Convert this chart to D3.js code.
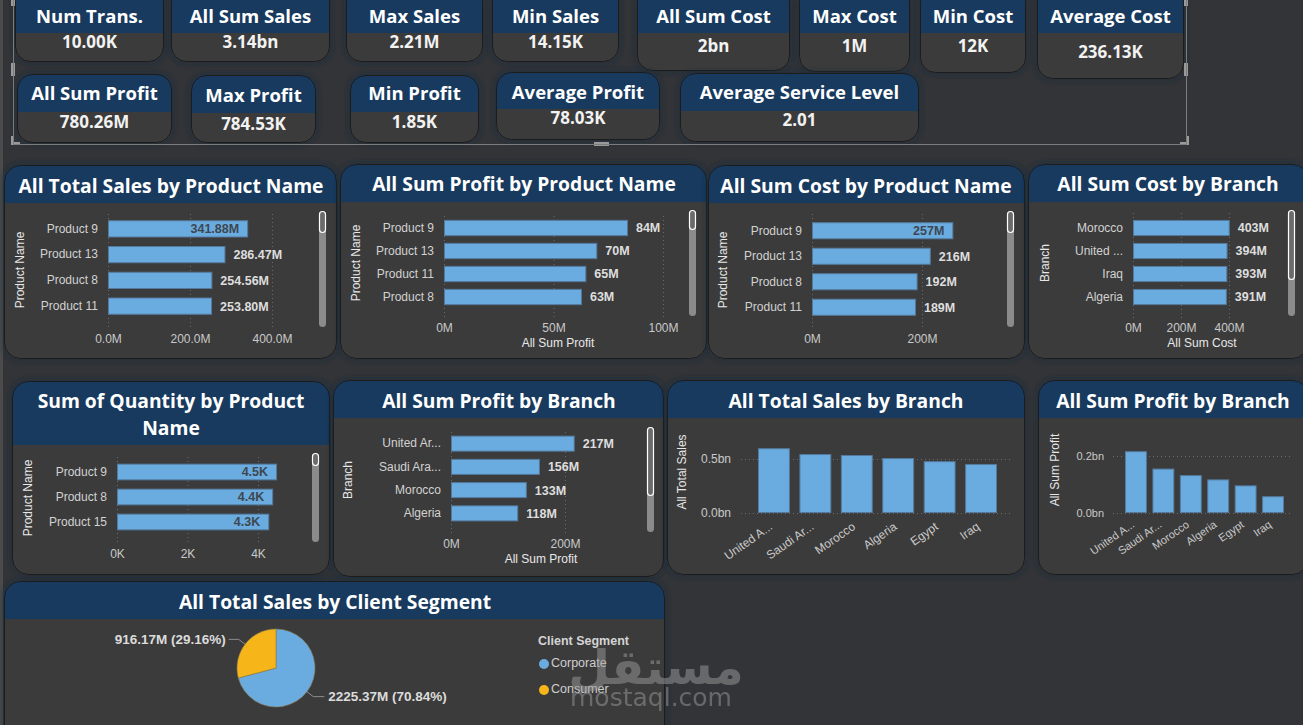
<!DOCTYPE html>
<html>
<head>
<meta charset="utf-8">
<script src="https://cdn.jsdelivr.net/npm/d3@7"></script>
<style>
body { margin: 0; background: #323438; }
svg { display: block; }
</style>
</head>
<body>
<div id="dash"></div>
<script>
// kpi cards
var kpi_titles = ["Num Trans.", "All Sum Sales", "Max Sales", "Min Sales", "All Sum Cost", "Max Cost", "Min Cost", "Average Cost",
    "All Sum Profit", "Max Profit", "Min Profit", "Average Profit", "Average Service Level"];
var kpi_values = ["10.00K", "3.14bn", "2.21M", "14.15K", "2bn", "1M", "12K", "236.13K",
    "780.26M", "784.53K", "1.85K", "78.03K", "2.01"];

// bar charts (M = millions, K = thousands, bn = billions)
var sales_products = ["Product 9", "Product 13", "Product 8", "Product 11"];
var sales_values = [341.88, 286.47, 254.56, 253.80];
var sales_ticks = [0, 200, 400];

var profit_products = ["Product 9", "Product 13", "Product 11", "Product 8"];
var profit_values = [84, 70, 65, 63];
var profit_ticks = [0, 50, 100];

var cost_products = ["Product 9", "Product 13", "Product 8", "Product 11"];
var cost_values = [257, 216, 192, 189];
var cost_ticks = [0, 200];

var cost_branches = ["Morocco", "United ...", "Iraq", "Algeria"];
var cost_branch_values = [403, 394, 393, 391];
var cost_branch_ticks = [0, 200, 400];

var qty_products = ["Product 9", "Product 8", "Product 15"];
var qty_values = [4.54, 4.43, 4.32];
var qty_ticks = [0, 2, 4];

var profit_branches = ["United Ar...", "Saudi Ara...", "Morocco", "Algeria"];
var profit_branch_values = [217, 156, 133, 118];
var profit_branch_ticks = [0, 200];

var branches = ["United A...", "Saudi Ar...", "Morocco", "Algeria", "Egypt", "Iraq"];
var branch_sales = [0.600, 0.546, 0.537, 0.509, 0.480, 0.454];
var branch_sales_ticks = [0, 0.5];
var branch_profit = [0.217, 0.156, 0.133, 0.118, 0.097, 0.059];
var branch_profit_ticks = [0, 0.2];

var segments = ["Corporate", "Consumer"];
var segment_sales = [2225.37, 916.17];

var W = 1303, H = 725;
var BAR = "#6aacdf", BAR_LINE = "#54799c", HEAD = "#173a5e", BODY = "#3a3a3a";
var TITLE_FONT = "'Open Sans', 'Noto Sans', sans-serif";
var AXIS_FONT = "'Liberation Sans', Arial, sans-serif";

var svg = d3.select("#dash").append("svg").attr("width", W).attr("height", H);
var defs = svg.append("defs");
defs.append("filter").attr("id", "glow")
    .attr("x", "-10%").attr("y", "-20%").attr("width", "120%").attr("height", "140%")
    .append("feDropShadow").attr("dx", 0).attr("dy", 0).attr("stdDeviation", 3)
    .attr("flood-color", "#17283b").attr("flood-opacity", 0.9);

svg.append("rect").attr("width", W).attr("height", H).attr("fill", "#323438");
svg.append("rect").attr("width", 3).attr("height", H).attr("fill", "#4b4b4b");

var clip_n = 0;
function card(x, y, w, h, head_bottom, r) {
    var id = "clip" + (clip_n++);
    defs.append("clipPath").attr("id", id).append("rect")
        .attr("x", x).attr("y", y).attr("width", w).attr("height", h).attr("rx", r).attr("ry", r);
    var g = svg.append("g");
    g.append("rect").attr("x", x).attr("y", y).attr("width", w).attr("height", h)
        .attr("rx", r).attr("ry", r).attr("fill", BODY).attr("filter", "url(#glow)");
    g.append("rect").attr("clip-path", "url(#" + id + ")")
        .attr("x", x).attr("y", y).attr("width", w).attr("height", head_bottom - y).attr("fill", HEAD);
    g.append("rect").attr("x", x + 0.5).attr("y", y + 0.5).attr("width", w - 1).attr("height", h - 1)
        .attr("rx", r).attr("ry", r).attr("fill", "none").attr("stroke", "#1c1c1c").attr("stroke-width", 1);
    return g;
}

function ctext(g, x, y, txt, size, weight, color, font) {
    return g.append("text").attr("x", x).attr("y", y).attr("dy", "0.35em")
        .attr("text-anchor", "middle")
        .style("font-family", font || TITLE_FONT).style("font-size", size + "px")
        .style("font-weight", weight).style("fill", color).text(txt);
}

// ---------- KPI row ----------
// [x1, x2, top, header bottom, bottom, title y, value y]
var kpi_boxes = [
    [15, 164, -14, 33, 62, 17, 42], [171, 330, -14, 33, 62, 17, 42], [346, 483, -14, 33, 62, 17, 42],
    [492, 619, -14, 33, 62, 17, 42], [637, 790, -14, 33, 71, 17, 46], [799, 910, -14, 33, 72, 17, 46],
    [920, 1026, -14, 33, 73, 17, 46], [1037, 1184, -14, 33, 79, 17, 52],
    [17, 172, 74, 112, 143, 94, 122], [191, 316, 75, 113, 143, 96, 124], [350, 479, 75, 112, 143, 94, 122],
    [496, 660, 72, 109, 140, 93, 118], [680, 919, 73, 111, 142, 93, 120]
];
kpi_boxes.forEach(function (b, i) {
    var g = card(b[0], b[2], b[1] - b[0], b[4] - b[2], b[3], 15);
    var cx = (b[0] + b[1]) / 2;
    ctext(g, cx, b[5], kpi_titles[i], 18.5, 700, "#ffffff");
    ctext(g, cx, b[6], kpi_values[i], 17, 700, "#f2f2f2");
});

// selection frame around the KPI group
var frame = svg.append("g").attr("fill", "#9a9a9a");
svg.append("rect").attr("x", 13.5).attr("y", -2).attr("width", 1173).attr("height", 146.5)
    .attr("fill", "none").attr("stroke", "#7c7c7c").attr("stroke-width", 1);
frame.append("rect").attr("x", 11).attr("y", 63).attr("width", 4).attr("height", 13);
frame.append("rect").attr("x", 1184).attr("y", 63).attr("width", 4).attr("height", 13);
frame.append("rect").attr("x", 594).attr("y", 142).attr("width", 15).attr("height", 4);
frame.append("path").attr("d", "M11,136h3v6h6v3h-9z");
frame.append("path").attr("d", "M1189,136h-3v6h-6v3h9z");
frame.append("rect").attr("x", 11).attr("y", 0).attr("width", 4).attr("height", 6);
frame.append("rect").attr("x", 1184).attr("y", 0).attr("width", 4).attr("height", 6);

// ---------- helpers ----------
function style_axis(ax, size) {
    ax.select(".domain").remove();
    ax.selectAll(".tick line").attr("stroke", "#6a6a6a").attr("stroke-dasharray", "1,3");
    ax.selectAll(".tick text").style("font-family", AXIS_FONT).style("font-size", (size || 12) + "px")
        .style("fill", "#c9c9c9");
}

function scrollbar(x, y1, y2, t1, t2) {
    var g = svg.append("g");
    g.append("rect").attr("x", x).attr("y", y1).attr("width", 7).attr("height", y2 - y1)
        .attr("rx", 3.5).attr("fill", "#8b8b8b");
    g.append("rect").attr("x", x + 0.5).attr("y", t1 + 0.5).attr("width", 6).attr("height", t2 - t1 - 1)
        .attr("rx", 3).attr("fill", "#6b6b6b").attr("stroke", "#ffffff").attr("stroke-width", 1.2);
}

function rot_title(x, y, txt) {
    svg.append("text").attr("transform", "translate(" + x + "," + y + ") rotate(-90)")
        .attr("text-anchor", "middle").attr("dy", "0.35em")
        .style("font-family", AXIS_FONT).style("font-size", "12px").style("fill", "#e8e8e8").text(txt);
}

function hbar(o) {
    var g = svg.append("g");
    var x = d3.scaleLinear().domain(o.domain).range(o.xr);
    var y = d3.scaleBand().domain(o.cats).range(o.yr).paddingInner(o.pad).paddingOuter(o.pad / 2);

    var ax = g.append("g").attr("transform", "translate(0," + o.gb + ")")
        .call(d3.axisBottom(x).tickValues(o.ticks).tickFormat(o.tf)
            .tickSizeInner(-(o.gb - o.gt)).tickSizeOuter(0).tickPadding(o.tp));
    style_axis(ax);

    var ay = g.append("g").attr("transform", "translate(" + x(0) + ",0)")
        .call(d3.axisLeft(y).tickSize(0).tickPadding(10));
    ay.select(".domain").remove();
    ay.selectAll(".tick text").style("font-family", AXIS_FONT).style("font-size", "12px").style("fill", "#d2d2d2");

    g.selectAll("rect.bar").data(o.vals).join("rect").attr("class", "bar")
        .attr("x", x(0) + 0.5)
        .attr("y", function (d, i) { return y(o.cats[i]) + 0.5; })
        .attr("width", function (d) { return x(d) - x(0) - 1; })
        .attr("height", y.bandwidth() - 1)
        .attr("fill", BAR).attr("stroke", BAR_LINE).attr("stroke-width", 1);

    g.selectAll("text.lbl").data(o.vals).join("text").attr("class", "lbl")
        .attr("x", function (d) { return o.inside(d) ? x(d) - 9 : x(d) + 8; })
        .attr("y", function (d, i) { return y(o.cats[i]) + y.bandwidth() / 2; })
        .attr("dy", "0.35em")
        .attr("text-anchor", function (d) { return o.inside(d) ? "end" : "start"; })
        .style("font-family", AXIS_FONT).style("font-size", "12.5px").style("font-weight", 700)
        .style("fill", function (d) { return o.inside(d) ? "#3e4751" : "#dedede"; })
        .text(o.lf);

    if (o.xtitle) {
        g.append("text").attr("x", o.xtitle[0]).attr("y", o.xtitle[1]).attr("dy", "0.35em")
            .attr("text-anchor", "middle").style("font-family", AXIS_FONT).style("font-size", "12px")
            .style("fill", "#e8e8e8").text(o.xtitle[2]);
    }
    rot_title(o.ytitle[0], o.ytitle[1], o.ytitle[2]);
    scrollbar.apply(null, o.scroll);
}

function vbar(o) {
    var g = svg.append("g");
    var x = d3.scaleBand().domain(o.cats).range(o.xr).paddingInner(o.pad).paddingOuter(0);
    var y = d3.scaleLinear().domain(o.domain).range(o.yr);

    var ay = g.append("g").attr("transform", "translate(" + o.gl + ",0)")
        .call(d3.axisLeft(y).tickValues(o.ticks).tickFormat(function (d) { return d3.format(".1f")(d) + "bn"; })
            .tickSizeInner(-(o.gr - o.gl)).tickSizeOuter(0).tickPadding(o.tp));
    style_axis(ay, o.fs);

    g.selectAll("rect.bar").data(o.vals).join("rect").attr("class", "bar")
        .attr("x", function (d, i) { return x(o.cats[i]) + 0.5; })
        .attr("y", function (d) { return y(d) + 0.5; })
        .attr("width", x.bandwidth() - 1)
        .attr("height", function (d) { return y(0) - y(d) - 1; })
        .attr("fill", BAR).attr("stroke", BAR_LINE).attr("stroke-width", 1);

    var ax = g.append("g").attr("transform", "translate(0," + y(0) + ")")
        .call(d3.axisBottom(x).tickSize(0));
    ax.select(".domain").remove();
    ax.selectAll(".tick text")
        .attr("x", 0).attr("y", 0).attr("dy", "0.35em")
        .attr("transform", "translate(" + o.lo[0] + "," + o.lo[1] + ") rotate(-35)")
        .attr("text-anchor", "end")
        .style("font-family", AXIS_FONT).style("font-size", o.fs + "px").style("fill", "#c9c9c9");

    rot_title(o.ytitle[0], o.ytitle[1], o.ytitle[2]);
}

var fmt_m1 = function (d) { return d3.format(".1f")(d) + "M"; };
var fmt_m0 = function (d) { return d3.format(".0f")(d) + "M"; };
var fmt_k0 = function (d) { return d3.format(".0f")(d) + "K"; };

// ---------- row 1 panels ----------
var TS = 19.3;
var pA = card(4, 165, 333, 194, 203, 16);
ctext(pA, 171, 186, "All Total Sales by Product Name", TS, 700, "#ffffff");
hbar({
    cats: sales_products, vals: sales_values, domain: [0, 400], xr: [108, 272],
    yr: [216, 319], pad: 0.33, ticks: sales_ticks, tf: fmt_m1, gt: 214, gb: 327, tp: 7,
    lf: function (d) { return d3.format(".2f")(d) + "M"; }, inside: function (d) { return d > 300; },
    ytitle: [20, 270, "Product Name"], scroll: [319, 211, 327, 211, 233]
});

var pB = card(340, 164, 367, 195, 202, 16);
ctext(pB, 524, 184, "All Sum Profit by Product Name", TS, 700, "#ffffff");
hbar({
    cats: profit_products, vals: profit_values, domain: [0, 100], xr: [444, 663],
    yr: [216.5, 308.5], pad: 0.29, ticks: profit_ticks, tf: fmt_m0, gt: 213, gb: 317, tp: 6,
    lf: fmt_m0, inside: function () { return false; },
    xtitle: [558, 343, "All Sum Profit"], ytitle: [356, 263, "Product Name"], scroll: [689, 210, 316, 210, 230]
});

var pC = card(708, 165, 317, 194, 203, 16);
ctext(pC, 866, 186, "All Sum Cost by Product Name", TS, 700, "#ffffff");
hbar({
    cats: cost_products, vals: cost_values, domain: [0, 200], xr: [812, 922],
    yr: [218, 320], pad: 0.33, ticks: cost_ticks, tf: fmt_m0, gt: 213, gb: 327, tp: 7,
    lf: fmt_m0, inside: function (d) { return d > 250; },
    ytitle: [723, 270, "Product Name"], scroll: [1007, 211, 327, 211, 233]
});

var pD = card(1028, 164, 281, 195, 202, 16);
ctext(pD, 1168, 184, "All Sum Cost by Branch", TS, 700, "#ffffff");
hbar({
    cats: cost_branches, vals: cost_branch_values, domain: [0, 200], xr: [1133, 1181],
    yr: [216.5, 308.5], pad: 0.3, ticks: cost_branch_ticks, tf: fmt_m0, gt: 212, gb: 318, tp: 5,
    lf: fmt_m0, inside: function () { return false; },
    xtitle: [1202, 343, "All Sum Cost"], ytitle: [1045, 263, "Branch"], scroll: [1288, 210, 316, 210, 280]
});

// ---------- row 2 panels ----------
var pE = card(12, 381, 318, 194, 445, 16);
ctext(pE, 171, 401, "Sum of Quantity by Product", TS, 700, "#ffffff");
ctext(pE, 171, 428, "Name", TS, 700, "#ffffff");
hbar({
    cats: qty_products, vals: qty_values, domain: [0, 2], xr: [117, 187.5],
    yr: [459.5, 534.5], pad: 0.33, ticks: qty_ticks, tf: fmt_k0, gt: 455, gb: 542, tp: 7,
    lf: function (d) { return d3.format(".1f")(d) + "K"; }, inside: function () { return true; },
    ytitle: [28, 498, "Product Name"], scroll: [312, 453, 542, 453, 466]
});

var pF = card(333, 380, 331, 197, 418, 16);
ctext(pF, 499, 401, "All Sum Profit by Branch", TS, 700, "#ffffff");
hbar({
    cats: profit_branches, vals: profit_branch_values, domain: [0, 200], xr: [451, 565],
    yr: [432, 525], pad: 0.31, ticks: profit_branch_ticks, tf: fmt_m0, gt: 430, gb: 533, tp: 6,
    lf: fmt_m0, inside: function () { return false; },
    xtitle: [541, 559, "All Sum Profit"], ytitle: [348, 480, "Branch"], scroll: [647, 427, 532, 427, 496]
});

var pG = card(667, 380, 358, 195, 418, 16);
ctext(pG, 846, 401, "All Total Sales by Branch", TS, 700, "#ffffff");
vbar({
    cats: branches, vals: branch_sales, domain: [0, 0.5], yr: [513, 459], xr: [758, 997], pad: 0.23,
    ticks: branch_sales_ticks, gl: 741, gr: 1012, tp: 10, fs: 12, lo: [-3, 12],
    ytitle: [682, 472, "All Total Sales"]
});

var pH = card(1038, 380, 271, 195, 418, 16);
ctext(pH, 1173, 401, "All Sum Profit by Branch", TS, 700, "#ffffff");
vbar({
    cats: branches, vals: branch_profit, domain: [0, 0.2], yr: [513, 456], xr: [1125, 1284], pad: 0.2,
    ticks: branch_profit_ticks, gl: 1113, gr: 1293, tp: 9, fs: 11, lo: [-3, 10],
    ytitle: [1055, 470, "All Sum Profit"]
});

// ---------- pie ----------
var pI = card(4, 581, 661, 170, 619, 16);
ctext(pI, 335, 602, "All Total Sales by Client Segment", TS, 700, "#ffffff");

var pie_color = d3.scaleOrdinal().domain(segments).range([BAR, "#f6b519"]);
var pie_r = 39, pie_cx = 276, pie_cy = 668;
var total = d3.sum(segment_sales);
var arcs = d3.pie().sort(null)(segment_sales);
var arc = d3.arc().innerRadius(0).outerRadius(pie_r);
var pg = svg.append("g").attr("transform", "translate(" + pie_cx + "," + pie_cy + ")");
pg.selectAll("path").data(arcs).join("path").attr("d", arc)
    .attr("fill", function (d, i) { return pie_color(segments[i]); })
    .attr("stroke", "#8a7a50").attr("stroke-width", 0.6);

var edge = d3.arc().innerRadius(pie_r).outerRadius(pie_r);
var outer = d3.arc().innerRadius(pie_r + 8).outerRadius(pie_r + 8);
arcs.forEach(function (a) {
    var p1 = edge.centroid(a), p2 = outer.centroid(a);
    var right = p2[0] > 0;
    var p3 = [p2[0] + (right ? 11 : -10), p2[1]];
    pg.append("polyline").attr("points", [p1, p2, p3].join(" "))
        .attr("fill", "none").attr("stroke", "#8c8c8c").attr("stroke-width", 1);
    pg.append("text").attr("x", p3[0] + (right ? 4 : -3)).attr("y", p3[1]).attr("dy", "0.35em")
        .attr("text-anchor", right ? "start" : "end")
        .style("font-family", AXIS_FONT).style("font-size", "13.5px").style("font-weight", 700)
        .style("fill", "#dcdcdc")
        .text(d3.format(".2f")(a.data) + "M (" + d3.format(".2%")(a.data / total) + ")");
});

var lg = svg.append("g");
lg.append("text").attr("x", 538).attr("y", 641).attr("dy", "0.35em")
    .style("font-family", AXIS_FONT).style("font-size", "12.5px").style("font-weight", 700)
    .style("fill", "#d4d4d4").text("Client Segment");
segments.forEach(function (s, i) {
    var yy = 664 + i * 26;
    lg.append("circle").attr("cx", 544).attr("cy", yy).attr("r", 5).attr("fill", pie_color(s));
    lg.append("text").attr("x", 551).attr("y", yy - 1).attr("dy", "0.35em")
        .style("font-family", AXIS_FONT).style("font-size", "12.5px").style("fill", "#cfcfcf").text(s);
});

// watermark (sits over the legend in the source image as well)
var wm = svg.append("g").style("opacity", 0.5).style("fill", "#9c9c9c");
wm.append("text").attr("x", 656).attr("y", 684).attr("text-anchor", "middle")
    .style("font-family", "'DejaVu Sans', sans-serif").style("font-size", "48px").style("font-weight", 700)
    .text("مستقل");
wm.append("text").attr("x", 651).attr("y", 706).attr("text-anchor", "middle")
    .style("font-family", "'DejaVu Sans', sans-serif").style("font-size", "25px")
    .text("mostaql.com");
</script>
</body>
</html>
